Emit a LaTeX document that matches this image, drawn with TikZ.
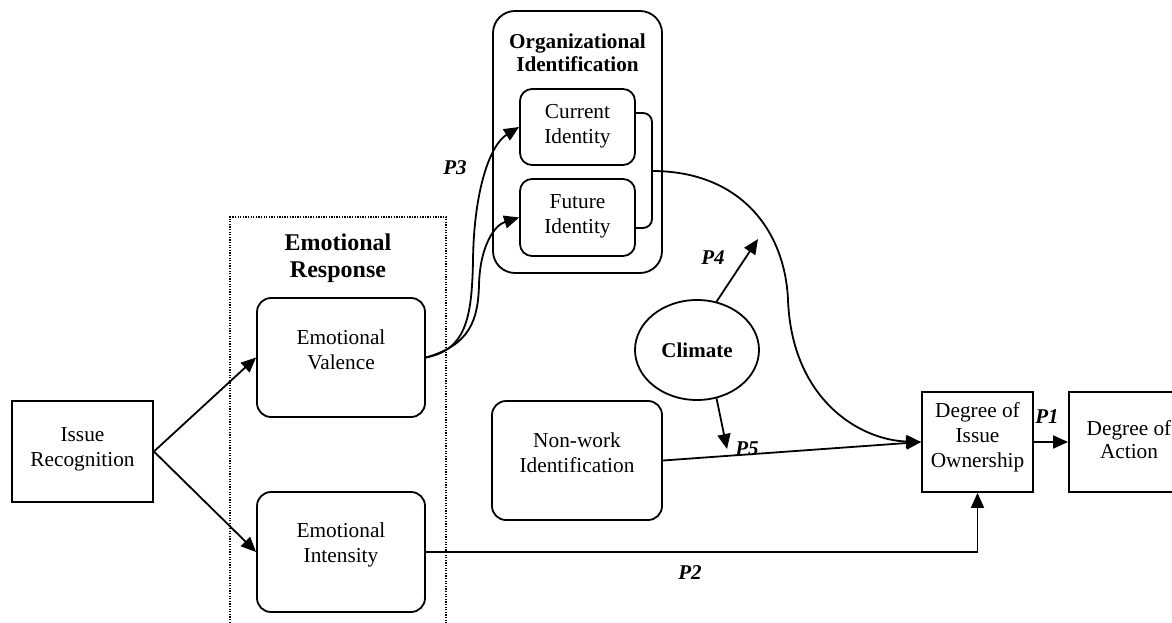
\documentclass[tikz,border=0pt]{standalone}
\usepackage{fontspec}
\setmainfont{Liberation Serif}
\usetikzlibrary{arrows.meta,shapes.geometric}
\begin{document}
\begin{tikzpicture}[x=1pt,y=-1pt,
  box/.style={draw, line width=1.8pt, inner sep=0pt},
  rbox/.style={box, rounded corners=14pt},
  txt/.style={font=\fontsize{21.3}{25}\selectfont, align=center, inner sep=0pt},
  ttl/.style={font=\fontsize{21.2}{23}\selectfont\bfseries, align=center, inner sep=0pt},
  plab/.style={font=\fontsize{21}{24}\selectfont\bfseries\itshape, inner sep=0pt},
  arr/.style={-{Triangle[length=15pt,width=13pt]}, line width=1.8pt},
  ln/.style={line width=1.8pt}]
\useasboundingbox (0,0) rectangle (1172,623);
\clip (0,0) rectangle (1172,623);

% dotted emotional response frame
\draw[line width=1.4pt, dash pattern=on 1.3pt off 1.3pt] (230,680) -- (230,217) -- (446,217) -- (446,680);
\node[ttl, font=\fontsize{24}{27}\selectfont\bfseries] (ert) at (338,258) {Emotional\\Response};

% boxes
\node[box, minimum width=141pt, minimum height=101pt] (IR) at (82.5,451.5) {};
\node[txt] (IRt) at (82.5,449) {Issue\\Recognition};

\node[rbox, minimum width=168pt, minimum height=119pt] (EV) at (341,357.5) {};
\node[txt] (EVt) at (341,350) {Emotional\\Valence};

\node[rbox, minimum width=168pt, minimum height=120pt] (EI) at (341,552) {};
\node[txt] (EIt) at (341,545) {Emotional\\Intensity};

\node[box, rounded corners=22pt, minimum width=169pt, minimum height=262pt] (ORG) at (577.5,142) {};
\node[ttl] (ORGt) at (577.5,53) {Organizational\\Identification};

\node[rbox, rounded corners=12pt, minimum width=115pt, minimum height=76pt] (CI) at (577.5,127) {};
\node[txt] (CIt) at (577.5,126) {Current\\Identity};
\node[rbox, rounded corners=12pt, minimum width=115pt, minimum height=77pt] (FI) at (577.5,217.5) {};
\node[txt] (FIt) at (577.5,216) {Future\\Identity};

\node[draw, ellipse, line width=1.8pt, minimum width=124pt, minimum height=100pt, inner sep=0pt] (CL) at (697,350) {};
\node[font=\fontsize{21}{24}\selectfont\bfseries, inner sep=0pt] (CLt) at (697,350) {Climate};

\node[rbox, minimum width=170pt, minimum height=119pt] (NW) at (577,460.5) {};
\node[txt] (NWt) at (577,453) {Non-work\\Identification};

\node[box, minimum width=111pt, minimum height=100pt] (OWN) at (977.5,442) {};
\node[txt] (OWNt) at (977.5,437) {Degree of\\Issue\\Ownership};

\node[box, minimum width=118pt, minimum height=100pt] (ACT) at (1128,442) {};
\node[txt, font=\fontsize{21.3}{23}\selectfont] (ACTt) at (1129,440) {Degree of\\Action};

% coordinates
\coordinate (br) at (652,171);
\coordinate (p4) at (758,239);
\coordinate (p5) at (727,449);

% connectors
\draw[arr] (IR.east) -- (EV.west);
\draw[arr] (IR.east) -- (EI.west);

\draw[arr] (EV.east) .. controls (465,350) and (472,320) .. (473,260) .. controls (474,190) and (490,145) .. (CI.west);
\draw[arr] (EV.east) .. controls (470,345) and (478,320) .. (479,285) .. controls (480,245) and (495,225) .. (FI.west);

\draw[ln, rounded corners=9pt] (CI.east |- 0,113) -- (652,113) -- (652,228) -- (FI.east |- 0,228);
\draw[arr] (br) .. controls (740,171) and (785,230) .. (788,300) .. controls (792,400) and (860,440) .. (OWN.west);

\draw[arr] (NW.east) -- (OWN.west);
\draw[arr] (CL.68) -- (p4);
\draw[arr] (CL.-68) -- (p5);
\draw[arr] (EI.east) -| (OWN.south);
\draw[arr] (OWN.east) -- (ACT.west);

% proposition labels
\node[plab] (P1) at (1047,417) {P1};
\node[plab] (P2) at (690,573) {P2};
\node[plab] (P3) at (455,168) {P3};
\node[plab] (P4) at (713,258) {P4};
\node[plab] (P5) at (747,449) {P5};
\end{tikzpicture}
\end{document}
